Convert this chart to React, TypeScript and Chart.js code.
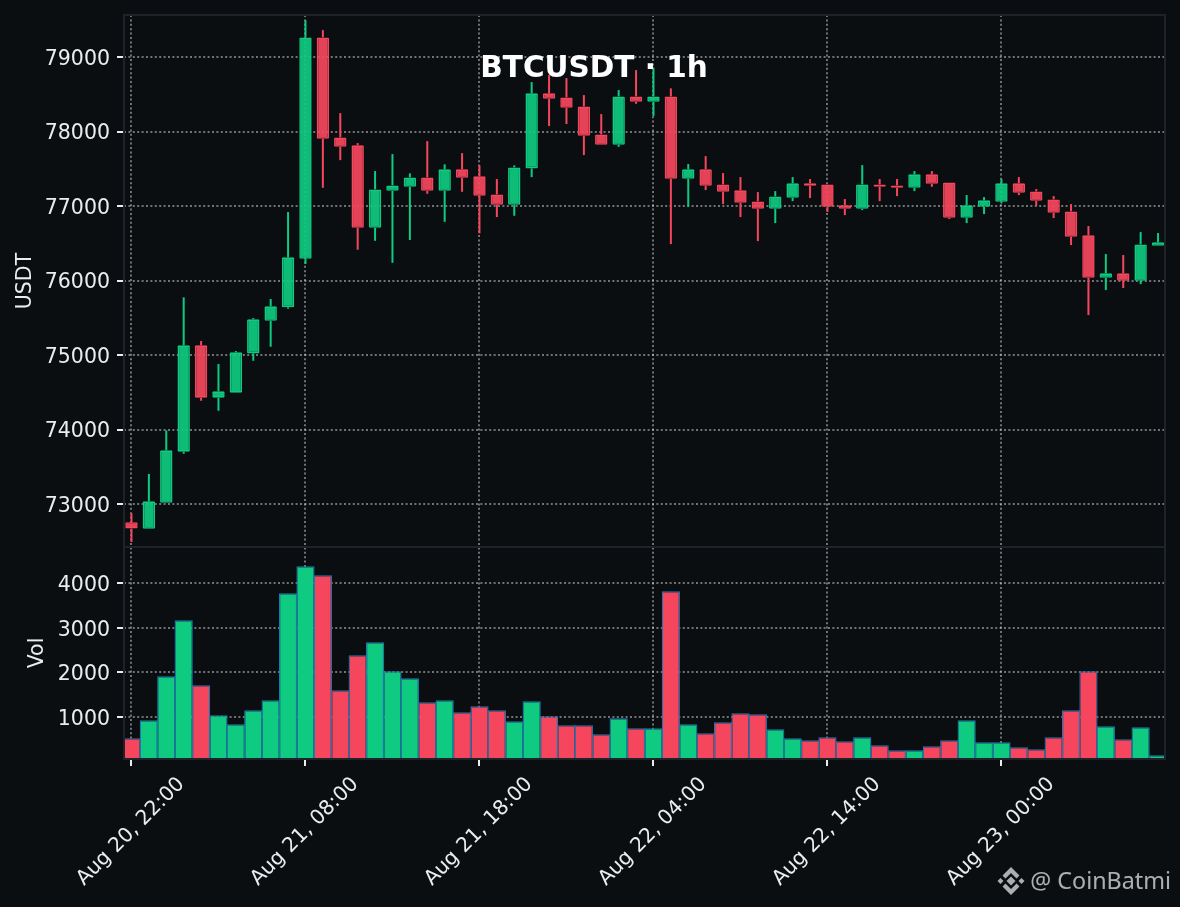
import React, { useEffect, useRef } from "react";
import { Chart, registerables } from "chart.js";

Chart.register(...registerables);

const opens = [72755,72668,73017,73702,75130,74427,74494,75022,75460,75640,76292,79263,77921,77814,76708,77204,77258,77384,77204,77492,77398,77156,77017,77505,78512,78458,78337,77961,77822,78471,78399,78471,77366,77492,77290,77210,77062,76963,77111,77304,77290,77009,76963,77290,77277,77245,77425,77317,76842,76990,77057,77304,77196,77089,76928,76606,76037,76096,75997,76466];
const highs = [72875,73403,73989,75774,75187,74879,75053,75496,75751,76919,79495,79361,78247,77845,77469,77697,77438,77871,77559,77710,77545,77362,77545,78663,78757,78717,78489,78234,78556,78824,78860,78579,77563,77670,77442,77388,77187,77200,77388,77362,77290,77093,77549,77362,77362,77469,77469,77317,77147,77120,77362,77388,77227,77133,77026,76731,76355,76342,76650,76637];
const lows = [72490,72668,73017,73675,74386,74252,74494,74923,75111,75621,76221,77245,77616,76413,76533,76238,76543,77164,76788,77191,76633,76852,76869,77388,78073,78100,77684,77822,77795,78372,78207,76489,76990,77214,77026,76852,76529,76771,77066,77107,76919,76878,76945,77066,77133,77200,77258,76825,76771,76892,77035,77147,77003,76838,76476,75536,75872,75899,75952,76466];
const closes = [72670,73036,73720,75130,74427,74512,75036,75479,75653,76311,79263,77902,77795,76708,77223,77277,77384,77204,77492,77379,77137,77017,77518,78512,78439,78318,77943,77822,78471,78399,78471,77366,77492,77272,77191,77043,76963,77129,77304,77272,76990,76963,77290,77258,77245,77425,77298,76842,77009,77076,77304,77178,77070,76909,76587,76037,76096,75997,76485,76512];
const volumes = [523,926,1911,3165,1710,1038,836,1150,1374,3770,4374,4173,1598,2381,2672,2023,1866,1329,1374,1105,1240,1150,904,1352,1016,814,814,613,971,747,747,3814,836,635,881,1083,1060,725,523,478,545,456,545,366,254,254,344,478,926,434,434,322,277,545,1150,2023,792,500,770,142];
const xTickValues = [0,10,20,30,40,50];
const xTickLabels = ["Aug 20, 22:00","Aug 21, 08:00","Aug 21, 18:00","Aug 22, 04:00","Aug 22, 14:00","Aug 23, 00:00"];
const priceTicks = [73000,74000,75000,76000,77000,78000,79000];
const volumeTicks = [1000,2000,3000,4000];
const titleText = "BTCUSDT \u00b7 1h";
const watermarkText = "@ CoinBatmi";

const BG = "#0b0e11";
const GREEN = "#0ecb81";
const RED = "#f6465d";
const FONT = "'DejaVu Sans'";
const TEXT = "#eaecef";
const GRID = "rgba(234,236,239,0.45)";
const TICK_SIZE = 20.5;
const GRID_DASH = [2, 2.4];

const gridOpts = {
  color: GRID,
  lineWidth: 2,
  tickColor: TEXT,
  tickWidth: 2,
  tickLength: 7,
};

const noPad = (s: any) => {
  s.paddingTop = 0;
  s.paddingBottom = 0;
  s.paddingLeft = 0;
  s.paddingRight = 0;
};

const overlayPlugin = {
  id: "overlay",
  afterDraw(chart: any) {
    const { ctx, chartArea } = chart;
    const { left, right, top, bottom } = chartArea;
    const mid = chart.scales.yPrice.bottom;
    ctx.save();
    ctx.strokeStyle = "#1e2329";
    ctx.lineWidth = 2;
    ctx.strokeRect(left, top, right - left, bottom - top);
    ctx.beginPath();
    ctx.moveTo(left, mid);
    ctx.lineTo(right, mid);
    ctx.stroke();

    ctx.fillStyle = "#ffffff";
    ctx.font = `bold 29.5px ${FONT}`;
    ctx.textAlign = "center";
    ctx.textBaseline = "middle";
    ctx.fillText(titleText, 594, 69);

    ctx.fillStyle = "rgba(234,236,239,0.72)";
    ctx.font = "23.3px 'Noto Sans'";
    ctx.textAlign = "right";
    ctx.textBaseline = "alphabetic";
    ctx.fillText(watermarkText, 1171, 889);

    const cx = 1011, cy = 881;
    const diamond = (x: number, y: number, r: number) => {
      ctx.beginPath();
      ctx.moveTo(x, y - r);
      ctx.lineTo(x + r, y);
      ctx.lineTo(x, y + r);
      ctx.lineTo(x - r, y);
      ctx.closePath();
      ctx.fill();
    };
    diamond(cx, cy, 4.5);
    diamond(cx - 10.5, cy, 3);
    diamond(cx + 10.5, cy, 3);
    const chevron = (sign: number) => {
      ctx.beginPath();
      ctx.moveTo(cx, cy + sign * 14);
      ctx.lineTo(cx + 8.5, cy + sign * 5.5);
      ctx.lineTo(cx + 5.5, cy + sign * 2.5);
      ctx.lineTo(cx, cy + sign * 8);
      ctx.lineTo(cx - 5.5, cy + sign * 2.5);
      ctx.lineTo(cx - 8.5, cy + sign * 5.5);
      ctx.closePath();
      ctx.fill();
    };
    chevron(-1);
    chevron(1);
    ctx.restore();
  },
};

export default function App() {
  const ref = useRef<HTMLCanvasElement>(null);

  useEffect(() => {
    document.body.style.margin = "0";
    document.body.style.background = BG;
    const isUp = opens.map((o, i) => closes[i] >= o);
    const wickColors = isUp.map((u) => (u ? GREEN : RED));
    const wickStyle = {
      yAxisID: "yPrice",
      grouped: false,
      barThickness: 2,
      borderWidth: 0,
      inflateAmount: 0,
      backgroundColor: wickColors,
    };
    const chart = new Chart(ref.current as HTMLCanvasElement, {
      type: "bar",
      data: {
        datasets: [
          {
            label: "Body",
            yAxisID: "yPrice",
            grouped: false,
            barThickness: 12.4,
            borderWidth: 1.6,
            borderRadius: 1,
            borderSkipped: false,
            inflateAmount: 0,
            backgroundColor: isUp.map((u) => (u ? "rgba(14,203,129,0.92)" : "rgba(246,70,93,0.92)")),
            borderColor: isUp.map((u) => (u ? GREEN : RED)),
            data: opens.map((o, i) => ({ x: i, y: [o, closes[i]] })),
          },
          {
            label: "Upper wick",
            ...wickStyle,
            data: highs.map((h, i) => ({ x: i, y: [Math.max(opens[i], closes[i]), h] })),
          },
          {
            label: "Lower wick",
            ...wickStyle,
            data: lows.map((l, i) => ({ x: i, y: [l, Math.min(opens[i], closes[i])] })),
          },
          {
            label: "Vol",
            yAxisID: "yVol",
            grouped: false,
            barThickness: 18.2,
            borderWidth: 1.2,
            borderSkipped: false,
            inflateAmount: 0,
            backgroundColor: isUp.map((u) => (u ? GREEN : RED)),
            borderColor: "#1f77b4",
            data: volumes.map((v, i) => ({ x: i, y: v })),
          },
        ],
      },
      options: {
        responsive: false,
        animation: false,
        devicePixelRatio: 1,
        layout: { padding: { top: 15, right: 15, left: 0, bottom: 0 } },
        plugins: { legend: { display: false }, tooltip: { enabled: false } },
        scales: {
          x: {
            type: "linear",
            position: "bottom",
            offset: false,
            min: -0.43,
            max: 59.4,
            afterBuildTicks: (s: any) => {
              s.ticks = xTickValues.map((value) => ({ value }));
            },
            afterFit: (s: any) => {
              s.height = 148;
              noPad(s);
            },
            grid: { ...gridOpts, offset: false },
            border: { display: false, dash: GRID_DASH },
            ticks: {
              autoSkip: false,
              minRotation: 45,
              maxRotation: 45,
              labelOffset: 50,
              padding: 6.5,
              color: TEXT,
              font: { family: FONT, size: 20.3 },
              callback: (v: any) => xTickLabels[xTickValues.indexOf(v)],
            },
          },
          yVol: {
            type: "linear",
            position: "left",
            stack: "panes",
            stackWeight: 212,
            min: 60,
            max: 4806,
            afterBuildTicks: (s: any) => {
              s.ticks = volumeTicks.map((value) => ({ value }));
            },
            afterFit: (s: any) => {
              s.width = 124;
              noPad(s);
            },
            grid: gridOpts,
            border: { display: false, dash: GRID_DASH },
            ticks: { padding: 7, labelOffset: 2.5, color: TEXT, font: { family: FONT, size: TICK_SIZE }, callback: (v: any) => String(v) },
            title: { display: true, text: "Vol", color: TEXT, font: { family: FONT, size: TICK_SIZE }, padding: { top: 25, bottom: 0 } },
          },
          yPrice: {
            type: "linear",
            position: "left",
            stack: "panes",
            stackWeight: 532,
            min: 72423,
            max: 79564,
            afterBuildTicks: (s: any) => {
              s.ticks = priceTicks.map((value) => ({ value }));
            },
            afterFit: (s: any) => {
              s.width = 124;
              noPad(s);
            },
            grid: gridOpts,
            border: { display: false, dash: GRID_DASH },
            ticks: { padding: 7, labelOffset: 2.5, color: TEXT, font: { family: FONT, size: TICK_SIZE }, callback: (v: any) => String(v) },
            title: { display: true, text: "USDT", color: TEXT, font: { family: FONT, size: TICK_SIZE }, padding: { top: 13, bottom: 0 } },
          },
        },
      } as any,
      plugins: [overlayPlugin],
    });
    return () => chart.destroy();
  }, []);

  return <canvas ref={ref} width={1180} height={907} style={{ display: "block", background: BG }} />;
}
